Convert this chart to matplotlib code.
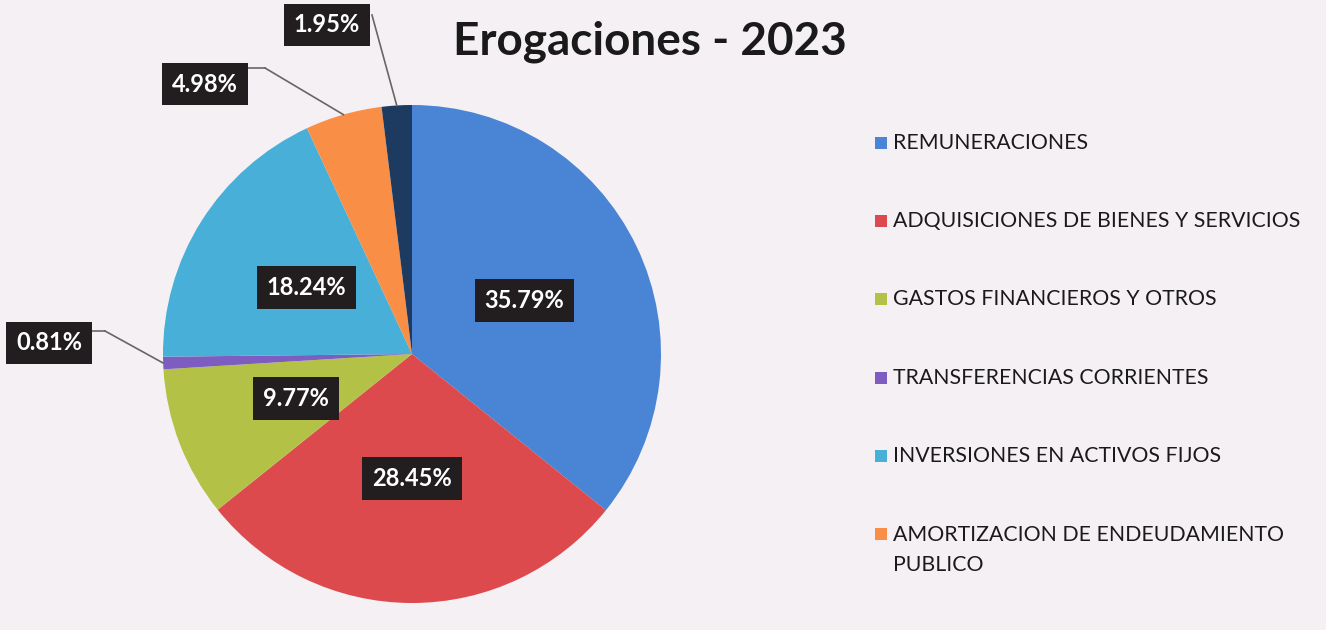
import numpy as np
import matplotlib.pyplot as plt

# data
categories = ["REMUNERACIONES", "ADQUISICIONES DE BIENES Y SERVICIOS",
              "GASTOS FINANCIEROS Y OTROS", "TRANSFERENCIAS CORRIENTES",
              "INVERSIONES EN ACTIVOS FIJOS", "AMORTIZACION DE ENDEUDAMIENTO\nPUBLICO",
              "OTROS"]
values = [35.79, 28.45, 9.77, 0.81, 18.24, 4.98, 1.95]
colors = ["#4A84D4", "#DC4A4D", "#B3C247", "#7D5EC0", "#47AFD8", "#F98E47", "#1D3A60"]
show_in_legend = 6  # last entry is cut off in the original

W, H = 1326, 630
fig = plt.figure(figsize=(W / 100, H / 100), dpi=100)
fig.patch.set_facecolor("#F5F0F3")

# pie geometry in pixels
cx, cy, R = 412, 354, 249
ax = fig.add_axes([(cx - R) / W, (H - cy - R) / H, 2 * R / W, 2 * R / H])
wedges, _ = ax.pie(values, colors=colors, startangle=90, counterclock=False,
                   radius=1, wedgeprops=dict(linewidth=0))
ax.set_xlim(-1, 1)
ax.set_ylim(-1, 1)
ax.set_aspect("equal")
ax.axis("off")

box = dict(boxstyle="square,pad=0.42", fc="#221E20", ec="none")
font = dict(family="Lato", weight="bold", size=17, color="white")

def px2data(px, py):
    return (px - cx) / R, (cy - py) / R

# outside labels: box centre (px) and elbow point (px)
outside = {3: ((49, 343), (105, 331)),
           5: ((205, 84), (265, 68)),
           6: ((327, 25), (372, 15))}

for i, w in enumerate(wedges):
    ang = np.deg2rad((w.theta1 + w.theta2) / 2)
    txt = f"{values[i]:.2f}%"
    if i in outside:
        (bx, by), (ex, ey) = outside[i]
        edge = (np.cos(ang), np.sin(ang))
        elbow = px2data(ex, ey)
        ax.plot([edge[0], elbow[0]], [edge[1], elbow[1]], color="#666666", lw=1.2,
                clip_on=False, zorder=1)
        if i != 6:
            side = px2data(bx + 30, ey)
            ax.plot([elbow[0], side[0]], [elbow[1], side[1]], color="#666666", lw=1.2,
                    clip_on=False, zorder=1)
        ax.text(*px2data(bx, by), txt, ha="center", va="center", bbox=box, zorder=3, **font)
    else:
        r = 0.5
        ax.text(r * np.cos(ang), r * np.sin(ang), txt, ha="center", va="center",
                bbox=box, zorder=3, **font)

fig.text(650 / W, 1 - 42 / H, "Erogaciones - 2023", ha="center", va="center",
         family="Lato", weight="bold", size=33, color="#1A1A1A")

# legend drawn as squares and text
row_y = [143, 221, 299, 378, 456, 534]
for k in range(show_in_legend):
    y = row_y[k]
    fig.patches.append(plt.Rectangle((875 / W, 1 - (y + 6) / H), 12 / W, 12 / H,
                                     transform=fig.transFigure, fc=colors[k], ec="none"))
    multi = "\n" in categories[k]
    fig.text(893 / W, 1 - (y - 9 if multi else y) / H, categories[k], ha="left",
             va="top" if multi else "center",
             family="Lato", size=15.3, color="#1A1A1A", linespacing=1.6)

fig.savefig("out.png", dpi=100, facecolor=fig.get_facecolor())
